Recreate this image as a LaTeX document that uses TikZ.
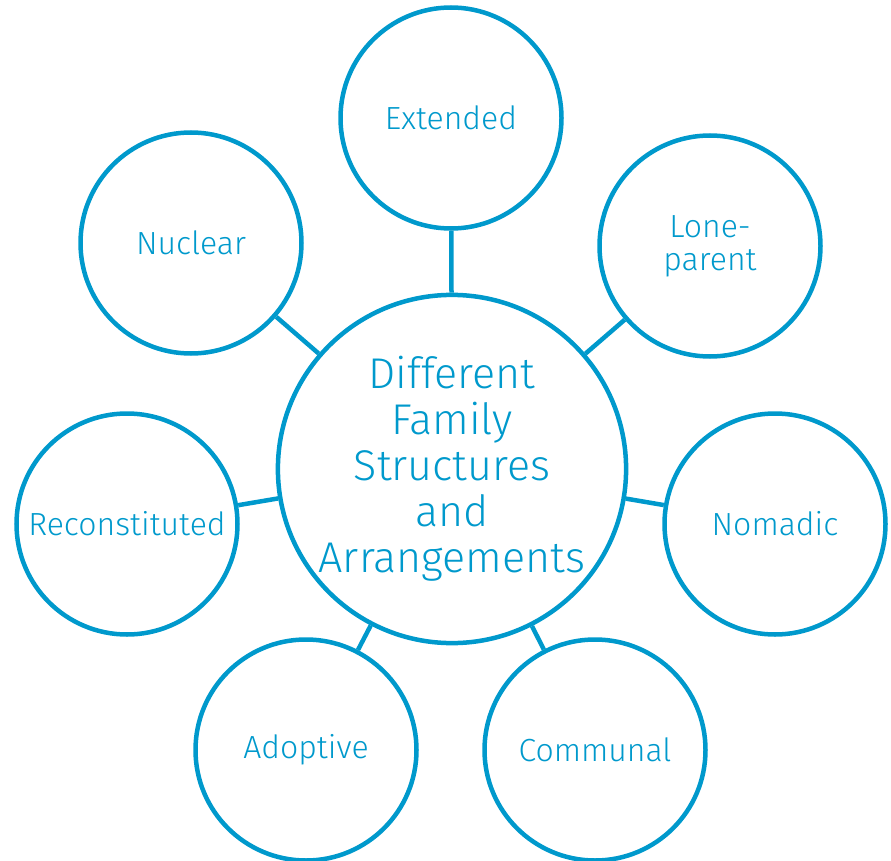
\documentclass[tikz,border=0pt]{standalone}
\usepackage{fontspec}
\setmainfont{Fira Sans}[UprightFont=* Light]
\definecolor{ring}{HTML}{0099CC}
\begin{document}
\begin{tikzpicture}[x=1pt,y=-1pt,
  hub/.style={circle,draw=ring,line width=4.5pt,minimum size=340pt,inner sep=0pt,
    text=ring,align=center,font=\fontsize{43}{46}\selectfont},
  leaf/.style={circle,draw=ring,line width=4.5pt,minimum size=221pt,inner sep=0pt,
    text=ring,align=center,font=\fontsize{32}{33}\selectfont},
  link/.style={draw=ring,line width=4.5pt}]
\useasboundingbox (0,0) rectangle (891,861);
\node[hub] (c) at (452,469) {Different\\Family\\Structures\\and\\Arrangements};
\node[leaf] (ext) at (451,118) {Extended};
\node[leaf] (lone) at (710,246) {Lone-\\parent};
\node[leaf] (nom) at (775,524) {Nomadic};
\node[leaf] (com) at (595,750) {Communal};
\node[leaf] (ado) at (306,750) {Adoptive};
\node[leaf] (rec) at (127,524) {Reconstituted};
\node[leaf] (nuc) at (191,243) {Nuclear};
\foreach \n in {ext,lone,nom,com,ado,rec,nuc}
  \draw[link] (c) -- (\n);
\end{tikzpicture}
\end{document}
